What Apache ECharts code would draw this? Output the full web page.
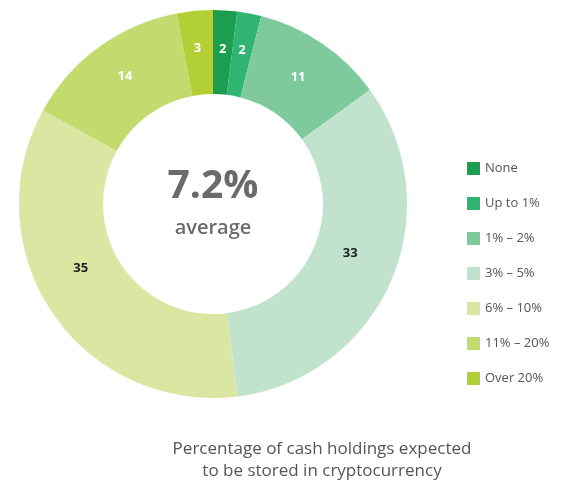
<!DOCTYPE html>
<html>
<head>
<meta charset="utf-8">
<script src="https://cdn.jsdelivr.net/npm/echarts@6/dist/echarts.min.js"></script>
<style>
html, body { margin: 0; padding: 0; background: #fff; }
#chart { width: 565px; height: 487px; }
</style>
</head>
<body>
<div id="chart"></div>
<script>
var categories = ['None', 'Up to 1%', '1% – 2%', '3% – 5%', '6% – 10%', '11% – 20%', 'Over 20%'];
var values = [2, 2, 11, 33, 35, 14, 3];
var colors = ['#1b9e4f', '#2fb571', '#7fca9c', '#c1e3cd', '#d9e7a3', '#c3da6f', '#b2cf36'];
var labelColors = ['#fff', '#fff', '#fff', '#222', '#222', '#fff', '#fff'];
// small nudges so the two big labels sit where the original put them
var labelNudge = [[0, 0], [0, -1], [-2, 1], [-5, -12], [-4, -23], [3, -2], [-1, -1]];

var chart = echarts.init(document.getElementById('chart'));
var font = '"Open Sans", "Noto Sans", sans-serif';

var option = {
	animation: false,
	textStyle: { fontFamily: font },
	legend: {
		orient: 'vertical',
		left: 462,
		top: 157,
		itemWidth: 13,
		itemHeight: 13,
		itemGap: 22,
		icon: 'rect',
		textStyle: { fontSize: 13, color: '#555', fontFamily: font },
		data: categories
	},
	graphic: [{
		type: 'text',
		x: 213, y: 187,
		style: {
			text: '7.2%',
			align: 'center',
			verticalAlign: 'middle',
			font: 'bold 39px ' + font,
			fill: '#6b6b6b'
		}
	}, {
		type: 'text',
		x: 213, y: 228,
		style: {
			text: 'average',
			align: 'center',
			verticalAlign: 'middle',
			font: '600 20px ' + font,
			fill: '#6b6b6b'
		}
	}, {
		type: 'text',
		x: 322, y: 460,
		style: {
			text: 'Percentage of cash holdings expected\nto be stored in cryptocurrency',
			align: 'center',
			verticalAlign: 'middle',
			font: '17px ' + font,
			lineHeight: 22,
			fill: '#555'
		}
	}],
	series: [{
		type: 'pie',
		center: [213, 204],
		radius: [110, 194],
		startAngle: 90,
		clockwise: true,
		avoidLabelOverlap: false,
		label: {
			show: true,
			position: 'inside',
			fontSize: 13,
			fontWeight: 'bold',
			fontFamily: font,
			formatter: '{c}'
		},
		labelLine: { show: false },
		emphasis: { disabled: true },
		data: categories.map(function (c, i) {
			return {
				name: c,
				value: values[i],
				itemStyle: { color: colors[i] },
				label: { color: labelColors[i], offset: labelNudge[i] }
			};
		})
	}]
};
chart.setOption(option);
</script>
</body>
</html>
